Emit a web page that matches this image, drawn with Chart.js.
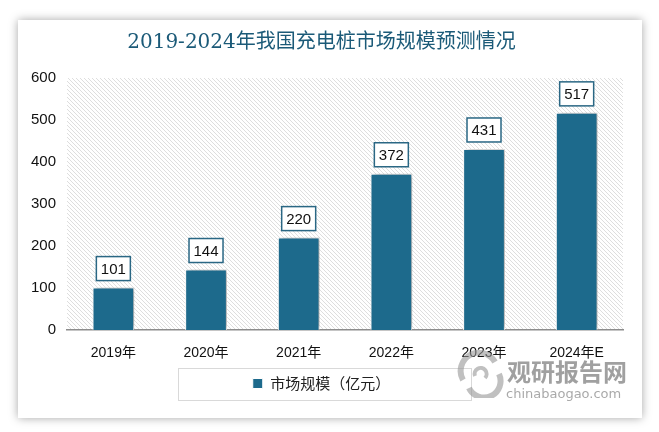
<!DOCTYPE html>
<html>
<head>
<meta charset="utf-8">
<script src="https://cdn.jsdelivr.net/npm/chart.js@4.4.1/dist/chart.umd.min.js"></script>
<style>
  body { margin: 0; background: #fff; width: 659px; height: 432px; overflow: hidden; position: relative; }
  #card { position: absolute; left: 18px; top: 20px; width: 624px; height: 398px; background: #fff;
          box-shadow: 0 0 9px rgba(0,0,0,0.35); }
  #wm1 { position: absolute; left: 507px; top: 353px; font: bold 24px "Noto Sans CJK SC"; color: rgba(120,120,120,0.7); }
  #wm2 { position: absolute; left: 506px; top: 386px; font: 13px "DejaVu Sans"; color: rgba(140,140,140,0.75); }
  #logo { position: absolute; left: 455px; top: 350px; }
</style>
</head>
<body>
<div id="card"><canvas id="chart" width="624" height="398"></canvas></div>
<svg id="logo" width="50" height="48" viewBox="0 0 50 48">
  <path d="M8 30 A18 18 0 0 1 40 12" fill="none" stroke="rgba(150,150,150,0.6)" stroke-width="6"/>
  <path d="M14 38 A16 16 0 0 0 44 24" fill="none" stroke="rgba(150,150,150,0.6)" stroke-width="6"/>
  <path d="M20 26 A6 6 0 1 1 30 28" fill="none" stroke="rgba(150,150,150,0.6)" stroke-width="4"/>
</svg>
<div id="wm1">观研报告网</div>
<div id="wm2">chinabaogao.com</div>
<script>
// 数据
const years = ['2019年', '2020年', '2021年', '2022年', '2023年', '2024年E'];
const marketSize = [101, 144, 220, 372, 431, 517];
const yTicks = [0, 100, 200, 300, 400, 500, 600];

const barColor = '#1d6a8c';
const labelFont = '"Liberation Sans", "Noto Sans CJK SC", sans-serif';

// 斜线背景
function makeHatch(ctx) {
    const p = document.createElement('canvas');
    p.width = 4; p.height = 4;
    const c = p.getContext('2d');
    c.fillStyle = '#fff';
    c.fillRect(0, 0, 4, 4);
    c.strokeStyle = '#dedede';
    c.lineWidth = 1;
    c.beginPath();
    c.moveTo(-1, -1); c.lineTo(5, 5);
    c.stroke();
    return ctx.createPattern(p, 'repeat');
}

const hatchPlugin = {
    id: 'hatch',
    beforeDraw(chart) {
        const { ctx, chartArea: a } = chart;
        ctx.save();
        ctx.fillStyle = makeHatch(ctx);
        ctx.fillRect(a.left, a.top, a.right - a.left, a.bottom - a.top);
        ctx.restore();
    }
};

// 柱子阴影 + 数据标签
const barDecor = {
    id: 'barDecor',
    beforeDatasetsDraw(chart) {
        const ctx = chart.ctx;
        ctx.save();
        ctx.shadowColor = 'rgba(0,0,0,0.35)';
        ctx.shadowBlur = 5;
        ctx.shadowOffsetX = 3;
        ctx.shadowOffsetY = -1;
    },
    afterDatasetsDraw(chart) {
        const ctx = chart.ctx;
        ctx.restore();
        const meta = chart.getDatasetMeta(0);
        ctx.save();
        ctx.font = '15px ' + labelFont;
        ctx.textAlign = 'center';
        ctx.textBaseline = 'middle';
        meta.data.forEach((bar, i) => {
            const w = 34, h = 24;
            const x = bar.x - w / 2;
            const y = bar.y - 7 - h;
            ctx.fillStyle = '#fff';
            ctx.fillRect(x, y, w, h);
            ctx.strokeStyle = '#2a6784';
            ctx.lineWidth = 1.5;
            ctx.strokeRect(x, y, w, h);
            ctx.fillStyle = '#111';
            ctx.fillText(String(marketSize[i]), bar.x, y + h / 2 + 1);
        });
        ctx.restore();
    }
};

// 图例外框
const legendBox = {
    id: 'legendBox',
    afterDraw(chart) {
        const l = chart.legend;
        const ctx = chart.ctx;
        const cy = l.top + l.height / 2;
        ctx.save();
        ctx.strokeStyle = '#d9d9d9';
        ctx.lineWidth = 1;
        ctx.strokeRect(160.5, Math.round(cy - 16) + 0.5, 293, 32);
        ctx.restore();
    }
};

new Chart(document.getElementById('chart'), {
    type: 'bar',
    data: {
        labels: years,
        datasets: [{
            label: '市场规模（亿元）',
            data: marketSize,
            backgroundColor: barColor,
            borderColor: '#fff',
            borderWidth: 1,
            categoryPercentage: 1,
            barPercentage: 0.45
        }]
    },
    options: {
        responsive: false,
        animation: false,
        layout: { padding: { left: 2, right: 19, top: 0, bottom: 17 } },
        plugins: {
            title: {
                display: true,
                text: '2019-2024年我国充电桩市场规模预测情况',
                color: '#1b5a78',
                font: { family: '"DejaVu Serif", "Noto Sans CJK SC", serif', size: 20, weight: 'normal' },
                padding: { top: 11, bottom: 23 }
            },
            legend: {
                position: 'bottom',
                labels: {
                    boxWidth: 10, boxHeight: 10,
                    color: '#222',
                    font: { family: '"Noto Sans CJK SC", sans-serif', size: 15 },
                    padding: 10
                }
            },
            tooltip: { enabled: false }
        },
        scales: {
            x: {
                grid: { display: false, drawTicks: false },
                border: { color: '#8c8c8c', width: 1.5 },
                ticks: { color: '#111', font: { family: labelFont, size: 14 }, padding: 15 },
                afterFit(axis) { axis.height = 36; }
            },
            y: {
                min: 0, max: 600,
                afterBuildTicks(axis) { axis.ticks = yTicks.map(v => ({ value: v })); },
                grid: { display: false, drawTicks: false },
                border: { display: false },
                ticks: { color: '#111', font: { family: labelFont, size: 15 }, padding: 11 }
            }
        }
    },
    plugins: [hatchPlugin, barDecor, legendBox]
});
</script>
</body>
</html>
